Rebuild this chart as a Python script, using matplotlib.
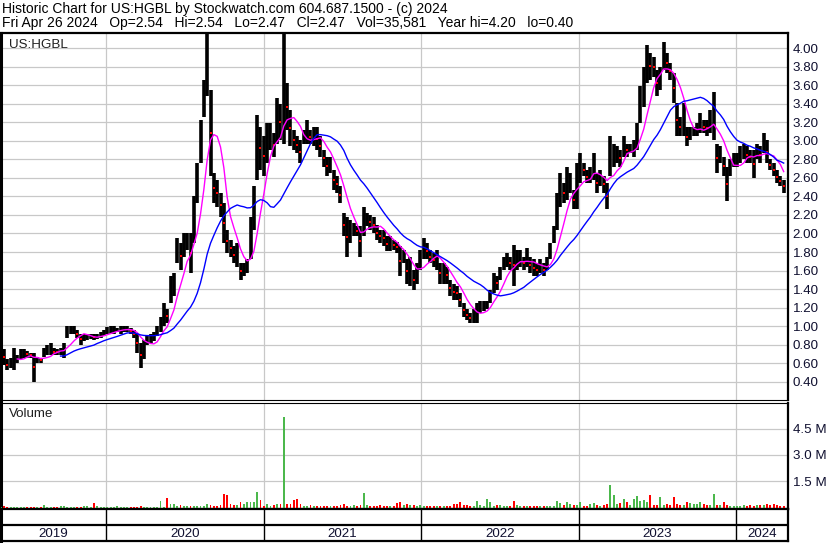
import matplotlib
matplotlib.use('Agg')
import matplotlib.pyplot as plt
import numpy as np
import pandas as pd

plt.rcParams['font.family'] = ['Liberation Sans', 'DejaVu Sans']

W, H = 830, 543

# weekly-ish bars, May 2019 .. Apr 2024
hi = [
    # 2019
    0.78, 0.75, 0.64, 0.66, 0.76, 0.69, 0.75, 0.75, 0.73, 0.71,
    0.71, 0.67, 0.66, 0.76, 0.80, 0.82, 0.76, 0.75, 0.76, 0.82,
    1.00, 1.00, 1.00, 0.96, 0.92, 0.92, 0.91, 0.92, 0.91, 0.92,
    0.94, 0.96, 0.99, 1.00, 1.00, 0.98, 1.00, 1.00, 1.00, 0.98,
    # 2020
    0.96, 0.92, 0.82, 0.85, 0.89, 0.92, 0.94, 1.00, 1.10, 1.25,
    1.18, 1.54, 1.57, 1.95, 1.90, 2.00, 2.00, 2.00,
    2.40, 2.76, 3.23, 3.66, 4.18, 3.55, 2.65, 2.58, 2.44, 2.33,
    2.04, 1.93, 1.86, 1.90, 1.68, 1.68, 1.72, 2.18, 2.51, 3.28,
    3.15, 3.05, 3.19, 3.19, 3.08, 3.46, 3.40, 4.18, 3.62, 3.33,
    # 2021
    3.12, 3.05, 3.01, 3.12, 3.23, 3.12, 3.15, 3.15, 3.05, 2.90,
    2.83, 2.83, 2.69, 2.62, 2.51, 2.22, 2.18, 2.15, 2.11, 2.08,
    2.08, 2.29, 2.22, 2.20, 2.18, 2.09, 2.04, 2.04, 1.97, 1.97,
    1.93, 1.91, 1.86, 1.82, 1.72, 1.75, 1.61, 1.68, 1.82,
    # 2022
    1.95, 1.90, 1.82, 1.79, 1.82, 1.68, 1.68, 1.64, 1.50, 1.46,
    1.43, 1.36, 1.25, 1.18, 1.14, 1.18, 1.25, 1.27, 1.27, 1.27,
    1.39, 1.57, 1.54, 1.64, 1.75, 1.79, 1.75, 1.88, 1.82, 1.82,
    1.75, 1.84, 1.75, 1.72, 1.68, 1.72, 1.68, 1.75, 1.90, 2.08,
    2.44, 2.65, 2.54, 2.72, 2.65, 2.47, 2.76, 2.87, 2.76, 2.69,
    # 2023
    2.72, 2.87, 2.65, 2.69, 2.62, 2.54, 3.05, 2.97, 2.94,
    2.90, 3.05, 2.97, 2.97, 3.01, 3.19, 3.59, 3.80, 4.04, 3.95,
    3.91, 3.77, 3.80, 4.07, 3.95, 3.84, 3.73, 3.41, 3.26, 3.41,
    3.15, 3.15, 3.15, 3.19, 3.30, 3.23, 3.23, 3.33, 3.53, 2.97,
    2.94, 2.83, 2.72, 2.80, 2.87, 2.87, 2.94, 2.97, 2.94, 2.90,
    # 2024
    2.90, 2.97, 2.94, 3.08, 3.01, 2.80, 2.76, 2.69, 2.62, 2.58,
]
lo = [
    0.67, 0.58, 0.53, 0.55, 0.53, 0.60, 0.64, 0.66, 0.66, 0.66,
    0.40, 0.60, 0.60, 0.67, 0.69, 0.69, 0.69, 0.69, 0.69, 0.66,
    0.87, 0.91, 0.92, 0.87, 0.80, 0.84, 0.85, 0.86, 0.85, 0.86,
    0.87, 0.89, 0.91, 0.91, 0.92, 0.94, 0.92, 0.94, 0.94, 0.92,
    0.87, 0.71, 0.55, 0.64, 0.80, 0.82, 0.84, 0.89, 0.94, 1.00,
    1.03, 1.25, 1.32, 1.68, 1.61, 1.75, 1.82, 1.57,
    1.90, 2.33, 2.76, 3.26, 3.48, 2.62, 2.33, 2.29, 2.18, 1.90,
    1.79, 1.75, 1.68, 1.64, 1.50, 1.54, 1.57, 1.72, 2.04, 2.58,
    2.69, 2.62, 2.76, 2.90, 2.83, 2.97, 3.01, 2.97, 3.12, 2.94,
    2.90, 2.87, 2.76, 2.97, 2.97, 2.97, 2.94, 2.90, 2.83, 2.72,
    2.62, 2.65, 2.47, 2.44, 2.33, 1.97, 1.75, 1.90, 1.97, 1.97,
    1.75, 1.97, 2.08, 2.04, 2.00, 1.93, 1.90, 1.86, 1.81, 1.81,
    1.82, 1.79, 1.54, 1.68, 1.46, 1.43, 1.39, 1.46, 1.61,
    1.72, 1.72, 1.68, 1.64, 1.61, 1.46, 1.46, 1.46, 1.32, 1.28,
    1.28, 1.21, 1.10, 1.07, 1.03, 1.03, 1.03, 1.14, 1.16, 1.18,
    1.25, 1.36, 1.39, 1.50, 1.61, 1.64, 1.61, 1.43, 1.61, 1.64,
    1.61, 1.64, 1.57, 1.54, 1.54, 1.57, 1.54, 1.61, 1.72, 1.90,
    2.04, 2.29, 2.33, 2.36, 2.44, 2.26, 2.26, 2.54, 2.62, 2.54,
    2.54, 2.58, 2.44, 2.51, 2.44, 2.26, 2.62, 2.72, 2.76,
    2.72, 2.83, 2.83, 2.87, 2.83, 2.90, 3.19, 3.37, 3.62, 3.66,
    3.69, 3.48, 3.55, 3.77, 3.73, 3.66, 3.41, 3.05, 3.05, 3.05,
    2.94, 3.01, 3.05, 3.05, 3.08, 3.08, 3.05, 3.08, 3.01, 2.65,
    2.76, 2.62, 2.35, 2.62, 2.72, 2.72, 2.76, 2.80, 2.76, 2.76,
    2.60, 2.80, 2.76, 2.87, 2.76, 2.69, 2.62, 2.54, 2.51, 2.44,
]
# volume, millions of shares
vol = [
    0.03, 0.07, 0.03, 0.03, 0.03, 0.03, 0.03, 0.03, 0.03, 0.03,
    0.03, 0.03, 0.03, 0.12, 0.03, 0.03, 0.03, 0.03, 0.07, 0.07,
    0.03, 0.03, 0.03, 0.03, 0.03, 0.07, 0.07, 0.03, 0.23, 0.07,
    0.03, 0.03, 0.03, 0.03, 0.03, 0.07, 0.03, 0.03, 0.03, 0.03,
    0.03, 0.03, 0.07, 0.04, 0.04, 0.04, 0.04, 0.04, 0.34, 0.04,
    0.54, 0.18, 0.18, 0.07, 0.11, 0.05, 0.05, 0.07, 0.07, 0.05,
    0.07, 0.07, 0.18, 0.14, 0.07, 0.05, 0.11, 0.77, 0.71, 0.18,
    0.11, 0.11, 0.29, 0.21, 0.32, 0.29, 0.29, 0.86, 0.39, 0.09,
    0.21, 0.07, 0.11, 0.18, 0.18, 5.20, 0.18, 0.18, 0.39, 0.50,
    0.18, 0.07, 0.07, 0.11, 0.05, 0.07, 0.07, 0.05, 0.07, 0.05,
    0.05, 0.05, 0.11, 0.18, 0.05, 0.05, 0.11, 0.05, 0.14, 0.82,
    0.11, 0.05, 0.05, 0.05, 0.11, 0.07, 0.05, 0.07, 0.05, 0.25,
    0.32, 0.11, 0.21, 0.14, 0.11, 0.07, 0.14, 0.05, 0.05, 0.07,
    0.05, 0.05, 0.05, 0.05, 0.05, 0.05, 0.21, 0.21, 0.29, 0.14,
    0.14, 0.05, 0.05, 0.36, 0.11, 0.05, 0.46, 0.29, 0.07, 0.11,
    0.11, 0.05, 0.05, 0.05, 0.36, 0.11, 0.05, 0.05, 0.05, 0.07,
    0.05, 0.05, 0.05, 0.05, 0.05, 0.07, 0.07, 0.36, 0.25, 0.11,
    0.29, 0.18, 0.11, 0.11, 0.29, 0.07, 0.07, 0.18, 0.25, 0.14,
    0.07, 0.11, 0.18, 1.30, 0.68, 0.18, 0.25, 0.50, 0.29, 0.11,
    0.50, 0.64, 0.36, 0.43, 0.32, 0.71, 0.14, 0.11, 0.57, 0.14,
    0.21, 0.14, 0.61, 0.18, 0.14, 0.14, 0.32, 0.25, 0.18, 0.18,
    0.32, 0.21, 0.14, 0.14, 0.75, 0.11, 0.14, 0.32, 0.14, 0.07,
    0.07, 0.07, 0.07, 0.11, 0.07, 0.11, 0.07, 0.11, 0.11, 0.14,
    0.18, 0.11, 0.18, 0.11, 0.07, 0.05,
]

price_ticks = np.arange(0.4, 4.01, 0.2)
vol_ticks = [1.5, 3.0, 4.5]
years = [2019, 2020, 2021, 2022, 2023, 2024]

title1 = 'Historic Chart for US:HGBL by Stockwatch.com 604.687.1500 - (c) 2024'
title2 = ('Fri Apr 26 2024   Op=2.54   Hi=2.54   Lo=2.47   Cl=2.47   '
          'Vol=35,581   Year hi=4.20   lo=0.40')

##########################################################

dates = pd.date_range('2019-05-01', '2024-04-21', periods=len(hi))
hi = np.array(hi)
lo = np.array(lo)
vol = np.array(vol)
mid = (hi + lo) / 2
ma_short = pd.Series(mid).rolling(6).mean()
ma_long = pd.Series(mid).rolling(19).mean()
down = np.r_[False, mid[1:] < mid[:-1]]

x0 = pd.Timestamp('2019-05-02')
x1 = pd.Timestamp('2024-05-01')
year_starts = [pd.Timestamp(f'{y}-01-01') for y in years[1:]]


def rect(l, t, r, b):
    return [l / W, 1 - b / H, (r - l) / W, (b - t) / H]


fig = plt.figure(figsize=(W / 100, H / 100), dpi=100)
ax_p = fig.add_axes(rect(1, 33, 788, 400))
ax_v = fig.add_axes(rect(1, 403, 788, 509))
ax_x = fig.add_axes(rect(1, 509, 788, 541))

grid = '#c8c8c8'
lab = '#101030'
fs = 9.6

# price panel
ax_p.vlines(dates, lo, hi, color='black', lw=2.6, zorder=3)
ax_p.plot(dates[down], mid[down], 's', color='#ff0000', ms=1.5, mew=0, zorder=4)
ax_p.plot(dates, ma_short, color='#ff00ff', lw=1.0, zorder=5)
ax_p.plot(dates, ma_long, color='#0000ff', lw=1.0, zorder=5)
ax_p.set_ylim(0.202, 4.165)
ax_p.set_yticks(price_ticks)
ax_p.set_yticklabels(['%.2f' % t for t in price_ticks])
ax_p.text(8 / 787, 0.985, 'US:HGBL', transform=ax_p.transAxes,
          va='top', ha='left', fontsize=fs, color='#202020')

# volume panel
colors = np.where(down, '#ff0000', '#4cb84c')
ax_v.bar(dates, vol + 0.1, bottom=-0.1, width=4.5, color=colors, zorder=3)
ax_v.set_ylim(-0.1, 5.98)
ax_v.set_yticks(vol_ticks)
ax_v.set_yticklabels(['%.1f M' % t for t in vol_ticks])
ax_v.text(8 / 787, 0.95, 'Volume', transform=ax_v.transAxes,
          va='top', ha='left', fontsize=fs, color='#202020')

for ax in (ax_p, ax_v):
    ax.set_xlim(x0, x1)
    ax.set_xticks(year_starts)
    ax.set_xticklabels([])
    ax.yaxis.tick_right()
    ax.tick_params(axis='both', length=0, labelsize=fs, labelcolor=lab, pad=3.5)
    ax.grid(True, color=grid, lw=0.9)
    ax.set_axisbelow(True)
    for s in ax.spines.values():
        s.set_color('black')
ax_p.spines['top'].set_linewidth(1.6)
ax_p.spines['left'].set_linewidth(2.2)
ax_p.spines['right'].set_linewidth(1.6)
ax_p.spines['bottom'].set_linewidth(0.8)
ax_v.spines['top'].set_linewidth(0.8)
ax_v.spines['left'].set_linewidth(2.2)
ax_v.spines['right'].set_linewidth(1.6)
ax_v.spines['bottom'].set_linewidth(1.6)

# date band
ax_x.set_xlim(x0, x1)
ax_x.set_ylim(0, 2)
ax_x.axhline(1, color='black', lw=1.6)
for d in year_starts:
    ax_x.axvline(d, color='black', lw=1.0)
edges = [x0] + year_starts + [x1]
for y, a, b in zip(years, edges[:-1], edges[1:]):
    ax_x.text(a + (b - a) / 2, 0.45, str(y), ha='center', va='center',
              fontsize=fs, color=lab)
ax_x.set_xticks([])
ax_x.set_yticks([])
for s in ax_x.spines.values():
    s.set_color('black')
    s.set_linewidth(1.6)
ax_x.spines['left'].set_linewidth(2.2)

fig.text(2 / W, 1 - 1.5 / H, title1, va='top', ha='left', fontsize=10, color='black')
fig.text(2 / W, 1 - 15.5 / H, title2, va='top', ha='left', fontsize=10, color='black')

fig.savefig('out.png', dpi=100)
